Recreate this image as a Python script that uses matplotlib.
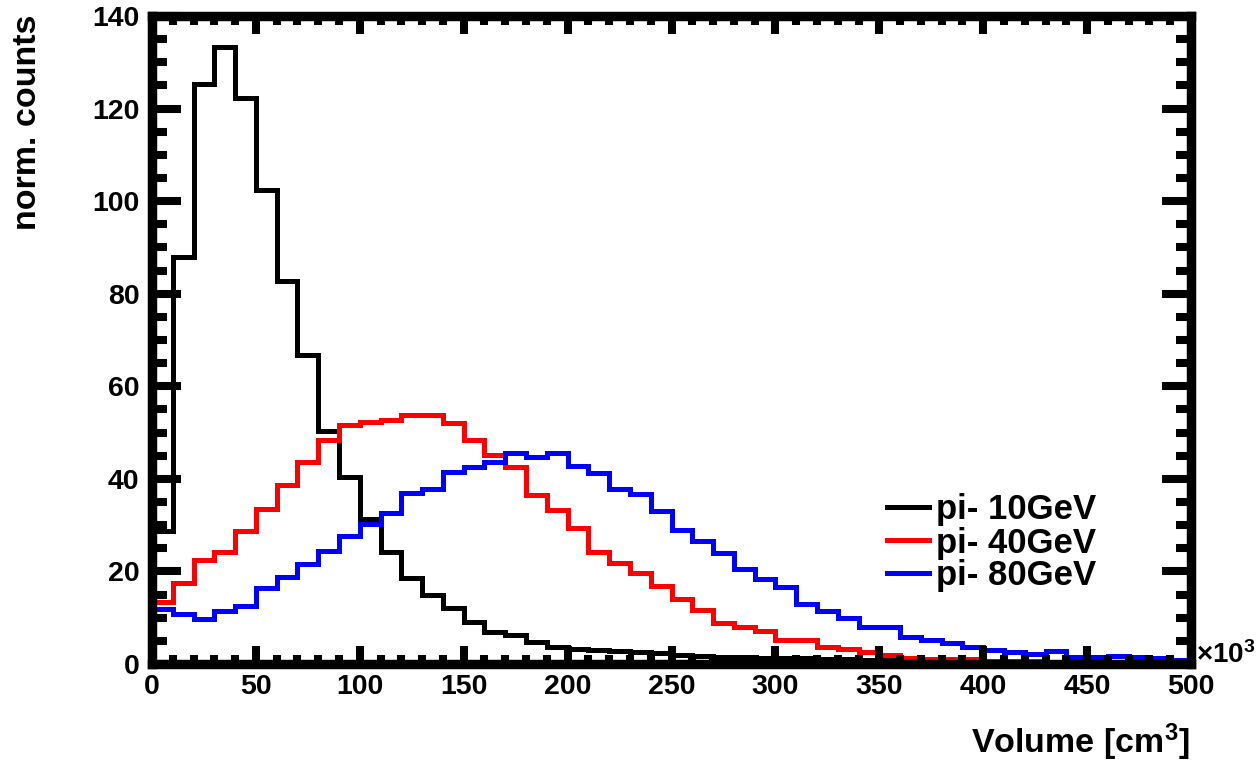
import numpy as np
import matplotlib
matplotlib.use("Agg")
import matplotlib.pyplot as plt
from matplotlib.ticker import MultipleLocator

plt.rcParams['font.family'] = ['Liberation Sans', 'DejaVu Sans']
plt.rcParams['font.weight'] = 'bold'
plt.rcParams['mathtext.fontset'] = 'custom'
plt.rcParams['mathtext.rm'] = 'Liberation Sans:bold'
plt.rcParams['mathtext.it'] = 'Liberation Sans:bold'
plt.rcParams['mathtext.bf'] = 'Liberation Sans:bold'

# bin edges (x10^3 cm^3)
bin_edges = np.arange(0, 510, 10)

pi10 = [28.7, 87.9, 125.3, 133.3, 122.2, 102.4, 82.7, 66.7, 50.3, 40.4,
        31.3, 24.2, 18.6, 14.9, 12.1, 9.1, 6.9, 6.3, 4.8, 3.7,
        3.2, 3.0, 2.8, 2.5, 2.3, 2.0, 1.8, 1.6, 1.5, 1.4,
        1.3, 1.2, 1.1, 1.0, 0.9, 0.8, 0.8, 0.7, 0.6, 0.6,
        0.5, 0.5, 0.4, 0.4, 0.3, 0.3, 0.2, 0.2, 0.2, 0.1]

pi40 = [13.4, 17.5, 22.5, 24.2, 28.7, 33.5, 38.7, 43.6, 48.4, 51.6,
        52.3, 52.7, 53.8, 53.8, 52.1, 48.4, 45.1, 42.5, 36.5, 33.3,
        29.4, 24.2, 21.8, 19.7, 16.8, 14.0, 11.7, 8.9, 8.0, 7.1,
        5.2, 5.2, 3.7, 3.2, 2.6, 1.9, 1.3, 1.1, 1.1, 1.0,
        0.6, 0.6, 0.6, 0.4, 0.4, 0.4, 0.4, 0.4, 0.4, 0.2]

pi80 = [11.9, 10.8, 9.7, 11.4, 12.5, 16.4, 18.8, 21.6, 24.4, 27.6,
        30.2, 32.6, 36.9, 37.8, 41.5, 42.5, 43.6, 45.6, 44.7, 45.6,
        42.8, 41.3, 37.8, 36.7, 33.0, 28.9, 26.6, 24.0, 20.5, 18.4,
        16.6, 13.0, 11.4, 9.9, 8.0, 8.0, 5.8, 5.2, 4.5, 3.7,
        3.0, 2.6, 2.2, 2.8, 1.5, 1.5, 1.7, 1.5, 1.3, 0.9]

labels = ["pi- 10GeV", "pi- 40GeV", "pi- 80GeV"]
colors = ["#000000", "#ff0000", "#0000ff"]

W, H = 1256, 764
fig = plt.figure(figsize=(W / 100, H / 100), dpi=100)
ax = fig.add_axes([152 / W, (H - 664) / H, 1039 / W, 648 / H])

handles = []
for vals, lab, col in zip([pi10, pi40, pi80], labels, colors):
    h = ax.stairs(vals, bin_edges, color=col, linewidth=3.6, label=lab,
                  baseline=None)
    handles.append(h)

ax.set_xlim(0, 500)
ax.set_ylim(0, 140)

for s in ax.spines.values():
    s.set_linewidth(6.8)
    s.set_color("black")

ax.xaxis.set_major_locator(MultipleLocator(50))
ax.xaxis.set_minor_locator(MultipleLocator(10))
ax.yaxis.set_major_locator(MultipleLocator(20))
ax.yaxis.set_minor_locator(MultipleLocator(5))

ax.tick_params(axis='x', which='both', direction='in', top=True, bottom=True,
               width=5.8, labelsize=20.5, pad=7)
ax.tick_params(axis='x', which='major', length=13)
ax.tick_params(axis='x', which='minor', length=6.5)
ax.tick_params(axis='y', which='both', direction='in', left=True, right=True,
               width=5.8, labelsize=20.5, pad=9)
ax.tick_params(axis='y', which='major', length=21)
ax.tick_params(axis='y', which='minor', length=10.5)
for lab in ax.get_xticklabels() + ax.get_yticklabels():
    lab.set_fontweight('bold')

fig.text(28 / W, 1 - 15 / H, "norm. counts", rotation=90, ha='center',
         va='top', fontsize=24.5, fontweight='bold')
fig.text(1190 / W, 1 - 753 / H, "Volume [cm$^{3}$]", ha='right',
         va='baseline', fontsize=24.5, fontweight='bold')
fig.text(1196 / W, 1 - 663 / H, "\u00d710$^{3}$", ha='left', va='baseline',
         fontsize=20, fontweight='bold')

leg = ax.legend(handles=handles, loc='center left',
                bbox_to_anchor=(887 / W, 1 - 543 / H),
                bbox_transform=fig.transFigure, frameon=False,
                fontsize=25, handlelength=1.2, handletextpad=0.22,
                borderpad=0, borderaxespad=0, labelspacing=0.0)
for t in leg.get_texts():
    t.set_fontweight('bold')

fig.savefig("out.png", dpi=100)
